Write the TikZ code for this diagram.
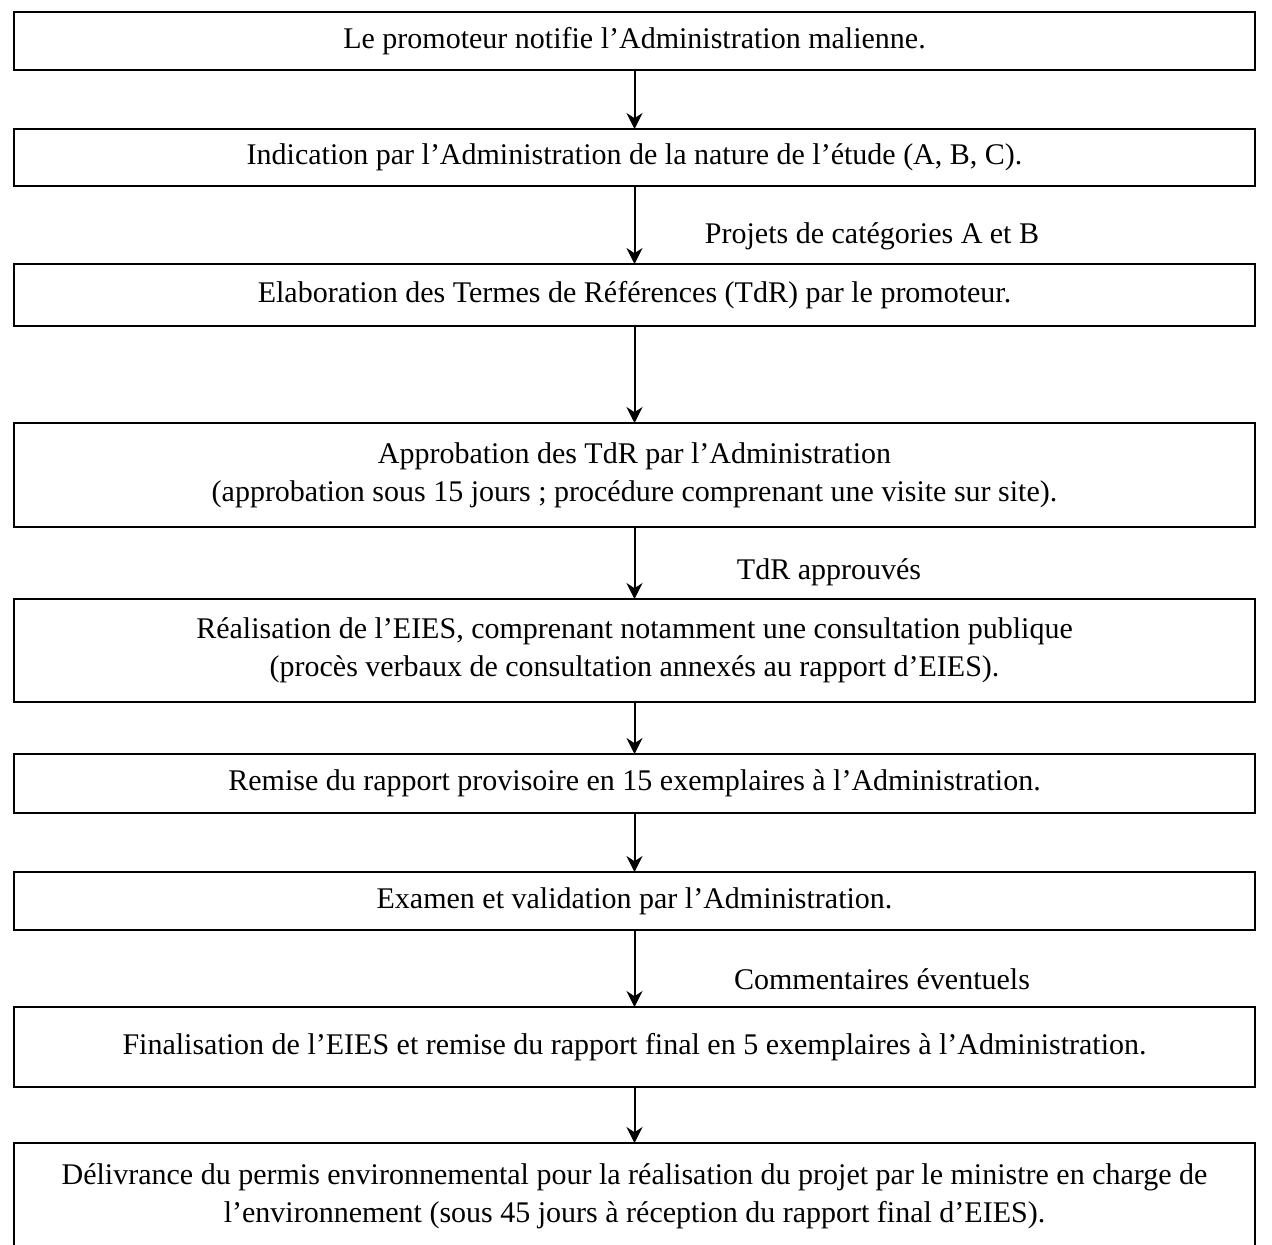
\documentclass[tikz,border=0pt]{standalone}
\usepackage{fontspec}
\setmainfont{Liberation Serif}
\usetikzlibrary{arrows.meta}

\begin{document}
\begin{tikzpicture}[x=0.5pt, y=-0.5pt, >={Stealth[length=8pt,width=8pt]},
  etape/.style={draw, line width=1pt, inner sep=0pt, outer sep=0pt,
    minimum width=620.5pt, align=center, font=\fontsize{15}{19}\selectfont},
  fleche/.style={->, line width=1pt},
  remarque/.style={font=\fontsize{15}{19}\selectfont}]
  \useasboundingbox (0,0) rectangle (1272,1244);
  % etapes de la procedure
  \node[etape, minimum height=29pt] (notif) at (634.5,41) {Le promoteur notifie l'Administration malienne.};
  \node[etape, minimum height=28.5pt] (indic) at (634.5,157.5) {Indication par l'Administration de la nature de l'étude (A, B, C).};
  \node[etape, minimum height=31pt] (tdr) at (634.5,295) {Elaboration des Termes de Références (TdR) par le promoteur.};
  \node[etape, minimum height=52pt] (approb) at (634.5,475) {Approbation des TdR par l'Administration\\(approbation sous 15 jours ; procédure comprenant une visite sur site).};
  \node[etape, minimum height=51.5pt] (eies) at (634.5,650.5) {Réalisation de l'EIES, comprenant notamment une consultation publique\\(procès verbaux de consultation annexés au rapport d'EIES).};
  \node[etape, minimum height=29.5pt] (remise) at (634.5,783.5) {Remise du rapport provisoire en 15 exemplaires à l'Administration.};
  \node[etape, minimum height=29pt] (examen) at (634.5,901) {Examen et validation par l'Administration.};
  \node[etape, minimum height=40pt] (final) at (634.5,1047) {Finalisation de l'EIES et remise du rapport final en 5 exemplaires à l'Administration.};
  \node[etape, minimum height=53pt] (permis) at (634.5,1196) {Délivrance du permis environnemental pour la réalisation du projet par le ministre en charge de\\l'environnement (sous 45 jours à réception du rapport final d'EIES).};
  % transitions
  \draw[fleche] (notif) -- (indic);
  \draw[fleche] (indic) -- (tdr);
  \draw[fleche] (tdr) -- (approb);
  \draw[fleche] (approb) -- (eies);
  \draw[fleche] (eies) -- (remise);
  \draw[fleche] (remise) -- (examen);
  \draw[fleche] (examen) -- (final);
  \draw[fleche] (final) -- (permis);
  % conditions
  \node[remarque] (catAB) at (872,236) {Projets de catégories A et B};
  \node[remarque] (tdrok) at (829,572) {TdR approuvés};
  \node[remarque] (comm) at (882,979) {Commentaires éventuels};
\end{tikzpicture}
\end{document}
